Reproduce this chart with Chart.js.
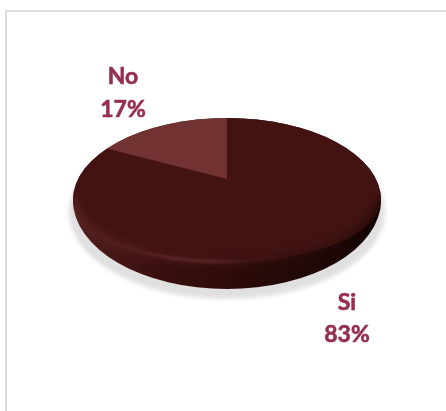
<!DOCTYPE html>
<html>
<head>
<meta charset="utf-8">
<script src="https://cdn.jsdelivr.net/npm/chart.js@4"></script>
<style>
  html, body { margin: 0; padding: 0; background: #fff; overflow: hidden; }
  #wrap { position: relative; width: 446px; height: 411px; }
  #frame { position: absolute; left: 5px; top: 10px; width: 441px; height: 401px;
           border-left: 2px solid #dcdcdc; border-top: 2px solid #dcdcdc; box-sizing: border-box; }
  canvas { position: absolute; left: 0; top: 0; }
</style>
</head>
<body>
<div id="wrap">
  <div id="frame"></div>
  <canvas id="c" width="446" height="411"></canvas>
</div>
<script>
const categories = ["Si", "No"];
const shares = [83, 17];
const sliceColors = ["#421311", "#733232"];
const labelColor = "#952f4f";

// Tilted disc outline, in page pixels
const disc = { x: 227, y: 200, rx: 154, up: 82, faceDown: 62, rimDown: 89 };
// Where the pie's hub sits on the tilted face, and the squash applied to the slices
const hub = { x: 227, y: 179, sx: 1, sy: 0.46 };
const labelSpots = { Si: [347, 303, 335], No: [123, 77, 110] };

function discPath(ctx, down) {
  ctx.beginPath();
  ctx.ellipse(disc.x, disc.y, disc.rx, disc.up, 0, Math.PI, 2 * Math.PI);
  ctx.ellipse(disc.x, disc.y, disc.rx, down, 0, 0, Math.PI);
  ctx.closePath();
}

function frontEdge(ctx, offset) {
  ctx.beginPath();
  ctx.ellipse(disc.x, disc.y + offset, disc.rx, disc.faceDown, 0, 0, Math.PI);
}

const tiltedDisc = {
  id: "tiltedDisc",
  beforeDatasetsDraw(chart) {
    const ctx = chart.ctx;
    const arc = chart.getDatasetMeta(0).data[0];

    // Soft ground shadow
    ctx.save();
    ctx.filter = "blur(2px)";
    ctx.fillStyle = "#e0e0e0";
    ctx.beginPath();
    ctx.ellipse(disc.x, disc.y + 12, disc.rx + 4, disc.rimDown - 2, 0, 0, 2 * Math.PI);
    ctx.fill();
    ctx.restore();

    // Side wall of the disc, lit from the left
    ctx.save();
    discPath(ctx, disc.rimDown);
    const wall = ctx.createLinearGradient(disc.x - disc.rx, 0, disc.x + disc.rx, 0);
    wall.addColorStop(0, "#4f1e1c");
    wall.addColorStop(0.3, "#380f0d");
    wall.addColorStop(0.6, "#280a09");
    wall.addColorStop(0.85, "#1c0706");
    wall.addColorStop(1, "#100302");
    ctx.fillStyle = wall;
    ctx.fill();
    ctx.restore();

    // Slices are drawn by the chart, squashed about the hub and cut to the face
    ctx.save();
    discPath(ctx, disc.faceDown);
    ctx.clip();
    ctx.translate(hub.x, hub.y);
    ctx.scale(hub.sx, hub.sy);
    ctx.translate(-arc.x, -arc.y);
  },
  afterDatasetsDraw(chart) {
    const ctx = chart.ctx;
    ctx.restore();

    // Rounded bevel between the face and the wall
    ctx.save();
    discPath(ctx, disc.rimDown);
    ctx.clip();
    const soft = ctx.createLinearGradient(disc.x - disc.rx, 0, disc.x + disc.rx, 0);
    soft.addColorStop(0, "rgba(92,38,36,0.9)");
    soft.addColorStop(0.25, "rgba(74,26,24,0.8)");
    soft.addColorStop(0.6, "rgba(52,16,14,0.6)");
    soft.addColorStop(0.85, "rgba(40,12,10,0.5)");
    soft.addColorStop(1, "rgba(12,3,2,0.7)");
    ctx.filter = "blur(4px)";
    ctx.strokeStyle = soft;
    ctx.lineWidth = 9;
    frontEdge(ctx, 0);
    ctx.stroke();

    const glint = ctx.createLinearGradient(disc.x - disc.rx, 0, disc.x + disc.rx, 0);
    glint.addColorStop(0.08, "rgba(120,60,60,0)");
    glint.addColorStop(0.24, "rgba(120,60,60,0.45)");
    glint.addColorStop(0.42, "rgba(124,64,64,0.75)");
    glint.addColorStop(0.58, "rgba(110,50,50,0.25)");
    glint.addColorStop(0.75, "rgba(90,40,40,0)");
    ctx.filter = "blur(1.5px)";
    ctx.strokeStyle = glint;
    ctx.lineWidth = 2.5;
    frontEdge(ctx, 0);
    ctx.stroke();
    ctx.restore();

    // Slice labels: name on the first line, share below
    ctx.save();
    ctx.font = "bold 23px Lato, 'Open Sans', sans-serif";
    ctx.fillStyle = labelColor;
    ctx.strokeStyle = labelColor;
    ctx.lineWidth = 0.6;
    ctx.textAlign = "center";
    ctx.textBaseline = "middle";
    categories.forEach((name, i) => {
      const [x, y1, y2] = labelSpots[name];
      ctx.fillText(name, x, y1);
      ctx.strokeText(name, x, y1);
      ctx.fillText(shares[i] + "%", x, y2);
      ctx.strokeText(shares[i] + "%", x, y2);
    });
    ctx.restore();
  }
};

new Chart(document.getElementById("c"), {
  type: "pie",
  data: {
    labels: categories,
    datasets: [{ data: shares, backgroundColor: sliceColors, borderWidth: 0 }]
  },
  options: {
    responsive: false,
    animation: false,
    layout: { padding: 0 },
    plugins: { legend: { display: false }, tooltip: { enabled: false } }
  },
  plugins: [tiltedDisc]
});
</script>
</body>
</html>
